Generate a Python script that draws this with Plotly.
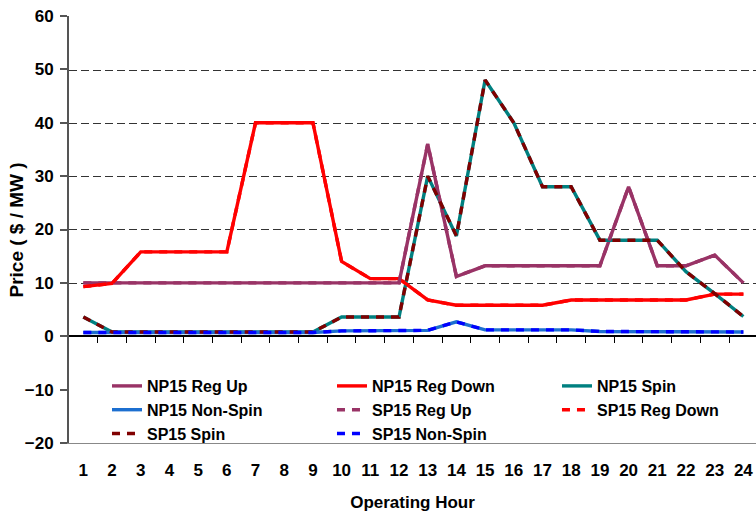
import plotly.graph_objects as go

hours = list(range(1, 25))
tick_labels = [str(h) for h in hours]
y_ticks = [-20, -10, 0, 10, 20, 30, 40, 50, 60]
grid_ticks = [10, 20, 30, 40, 50, 60]

np15_reg_up = [10, 10, 10, 10, 10, 10, 10, 10, 10, 10, 10, 10,
               36, 11.2, 13.2, 13.2, 13.2, 13.2, 13.2, 28, 13.2, 13.2, 15.2, 10]
np15_reg_down = [9.3, 9.9, 15.8, 15.8, 15.8, 15.8, 40, 40, 40, 14, 10.8, 10.8,
                 6.8, 5.8, 5.8, 5.8, 5.8, 6.8, 6.8, 6.8, 6.8, 6.8, 7.9, 7.9]
np15_spin = [3.6, 0.8, 0.8, 0.8, 0.8, 0.8, 0.8, 0.8, 0.8, 3.6, 3.6, 3.6,
             30, 18.8, 48, 40, 28, 28, 18, 18, 18, 12.1, 8, 3.7]
np15_non_spin = [0.7, 0.7, 0.7, 0.7, 0.7, 0.7, 0.7, 0.7, 0.7, 1.0, 1.0, 1.1,
                 1.1, 2.7, 1.2, 1.2, 1.2, 1.2, 0.9, 0.9, 0.9, 0.9, 0.9, 0.8]
sp15_reg_up = list(np15_reg_up)
sp15_reg_down = list(np15_reg_down)
sp15_spin = list(np15_spin)
sp15_non_spin = list(np15_non_spin)

# (name, values, colour, dash, legend column)
series = [
    ("NP15 Reg Up", np15_reg_up, "#993366", "solid", "legend"),
    ("NP15 Reg Down", np15_reg_down, "#FF0000", "solid", "legend2"),
    ("NP15 Spin", np15_spin, "#008080", "solid", "legend3"),
    ("NP15 Non-Spin", np15_non_spin, "#1C6FD0", "solid", "legend"),
    ("SP15 Reg Up", sp15_reg_up, "#993366", "8px,7px", "legend2"),
    ("SP15 Reg Down", sp15_reg_down, "#FF0000", "8px,7px", "legend3"),
    ("SP15 Spin", sp15_spin, "#800000", "8px,7px", "legend"),
    ("SP15 Non-Spin", sp15_non_spin, "#0000FF", "8px,7px", "legend2"),
]

FONT = "Liberation Sans"
fig = go.Figure()

# empty helper trace so the overlay axes (zero axis + dashed grid) get drawn
fig.add_trace(go.Scatter(x=[], y=[], xaxis="x2", yaxis="y2", mode="lines",
                         showlegend=False, hoverinfo="skip"))

for name, vals, color, dash, lg in series:
    fig.add_trace(go.Scatter(
        x=hours, y=vals, name=name, mode="lines", legend=lg,
        line=dict(color=color, width=3.4, dash=dash),
    ))

xr = [0.5, 24.44]
yr = [-20, 60]
yr_grid = [-20, 60.15]

legend_font = dict(family=FONT, size=16, color="black", weight="bold")
legend_y = 0.1733


def legend_box(x):
    return dict(orientation="v", x=x, xanchor="left", y=legend_y, yanchor="top",
                font=legend_font, bgcolor="rgba(0,0,0,0)", borderwidth=0,
                traceorder="normal")


fig.update_layout(
    width=756, height=516,
    margin=dict(l=69, r=0, t=16, b=73, autoexpand=False),
    paper_bgcolor="white", plot_bgcolor="white",
    font=dict(family=FONT, color="black", size=17, weight="bold"),
    showlegend=True,
    legend=legend_box(0.0553),
    legend2=legend_box(0.3828),
    legend3=legend_box(0.7103),
    xaxis=dict(
        range=xr, tickvals=hours, ticktext=tick_labels,
        ticks="", showline=True, linecolor="#888888", linewidth=1,
        showgrid=False, zeroline=False, ticklabelstandoff=12,
        tickfont=dict(family=FONT, size=17, color="black", weight="bold"),
        title=dict(text="Operating Hour", standoff=16,
                   font=dict(family=FONT, size=17, color="black", weight="bold")),
    ),
    xaxis2=dict(
        overlaying="x", anchor="free", position=0.25, range=xr,
        tickvals=[h + 0.5 for h in hours], ticks="outside", ticklen=6,
        tickcolor="black", tickwidth=1, showticklabels=False,
        showline=True, linecolor="black", linewidth=2,
        showgrid=False, zeroline=False,
    ),
    yaxis=dict(
        range=yr, tickvals=y_ticks, ticks="outside", ticklen=7,
        tickcolor="#555555", tickwidth=1.5, showline=True,
        linecolor="#555555", linewidth=2, showgrid=False, zeroline=False,
        ticklabelstandoff=3,
        tickfont=dict(family=FONT, size=17, color="black", weight="bold"),
    ),
    yaxis2=dict(
        overlaying="y", range=yr_grid, tickvals=grid_ticks, showgrid=True,
        gridcolor="#333333", griddash="8px,4px", gridwidth=1,
        showticklabels=False, ticks="", showline=False, zeroline=False,
    ),
    annotations=[dict(
        text="Price ( $ / MW )", textangle=-90, showarrow=False,
        xref="paper", yref="paper", x=-0.0757, y=0.5,
        xanchor="center", yanchor="middle",
        font=dict(family=FONT, size=19, color="black", weight="bold"),
    )],
)

fig.write_html(
    "out.html",
    config={"displayModeBar": False},
    post_script="document.body.style.margin='0px';document.body.style.overflow='hidden';",
)
